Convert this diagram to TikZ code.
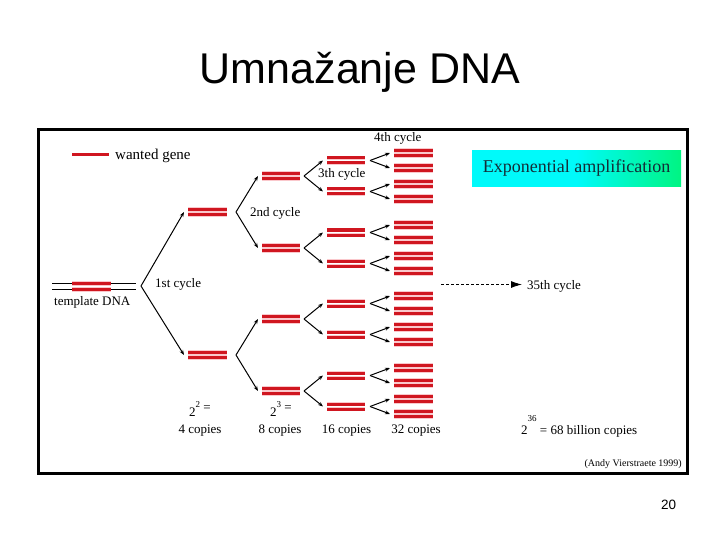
\documentclass[tikz,border=0pt]{standalone}
\usepackage{fontspec}
\setmainfont{Liberation Serif}
\newfontfamily\titlefont{Liberation Sans}
\usetikzlibrary{arrows.meta}
\definecolor{genered}{RGB}{208,22,32}
\definecolor{genepink}{RGB}{250,200,204}
\definecolor{boxtext}{RGB}{20,45,55}
\definecolor{boxcyan}{RGB}{0,250,250}
\definecolor{boxgreen}{RGB}{0,245,130}
\tikzset{
  strand/.style={line width=3pt, genered},
  halo/.style={line width=4.8pt, genepink},
  branch/.style={line width=1pt, -{Stealth[length=5pt,width=3.8pt]}},
  lbl/.style={font=\fontsize{13}{15}\selectfont, inner sep=0pt, anchor=base west},
}
\newcommand\genepair[4]{%
  \draw[halo] (#1,#3-#4/2) -- (#2,#3-#4/2);
  \draw[halo] (#1,#3+#4/2) -- (#2,#3+#4/2);
  \draw[strand] (#1,#3-#4/2) -- (#2,#3-#4/2);
  \draw[strand] (#1,#3+#4/2) -- (#2,#3+#4/2);
}
\begin{document}
\begin{tikzpicture}[x=1pt,y=-1pt]
\useasboundingbox (0,0) rectangle (720,540);
% title and page number
\node[font=\titlefont\fontsize{43}{50}\selectfont, anchor=base, inner sep=0pt] (title) at (360,84) {Umnažanje DNA};
\node[font=\titlefont\fontsize{13.5}{16}\selectfont, inner sep=0pt] (pagenum) at (668.5,505) {20};
% frame
\draw[line width=3pt] (38.5,129.5) rectangle (687.5,473.5);
% legend
\coordinate (lg1) at (72,155);
\coordinate (lg2) at (109,155);
\draw[strand] (lg1) -- (lg2);
\node[lbl, font=\fontsize{15}{17}\selectfont] (wanted) at (115,159.5) {wanted gene};
% template DNA
\coordinate (t1) at (52,283.5);
\coordinate (t2) at (136,283.5);
\coordinate (t3) at (52,289.5);
\coordinate (t4) at (136,289.5);
\draw[line width=0.8pt] (t1) -- (t2);
\draw[line width=0.8pt] (t3) -- (t4);
\genepair{72}{111}{286.5}{6}
\node[lbl] (template) at (54,305) {template DNA};
% tree
\coordinate (v0) at (141,286);
\foreach \a [count=\i] in {212,355}{
  \coordinate (p\i) at (184,\a);
  \draw[branch] (v0) -- (p\i);
  \genepair{188}{227}{\a}{5.5}
  \coordinate (v\i) at (236,\a);
  \foreach \s [count=\j] in {-36,36}{
    \pgfmathsetmacro\b{\a+\s}
    \coordinate (q\i\j) at (258,\b);
    \draw[branch] (v\i) -- (q\i\j);
    \genepair{262}{300}{\b}{5.5}
    \coordinate (w\i\j) at (304,\b);
    \foreach \t [count=\k] in {-15.5,15.5}{
      \pgfmathsetmacro\c{\b+\t}
      \coordinate (r\i\j\k) at (323,\c);
      \draw[branch] (w\i\j) -- (r\i\j\k);
      \genepair{327}{365}{\c}{5}
      \coordinate (x\i\j\k) at (370,\c);
      \foreach \u [count=\m] in {-7.5,7.5}{
        \pgfmathsetmacro\d{\c+\u}
        \coordinate (s\i\j\k\m) at (390,\d);
        \draw[branch] (x\i\j\k) -- (s\i\j\k\m);
        \genepair{394}{433}{\d}{5}
      }
    }
  }
}
% cycle labels
\node[lbl] (c1) at (155,287) {1st cycle};
\node[lbl] (c2) at (250,216) {2nd cycle};
\node[lbl] (c3) at (318,178) {3th cycle};
\node[lbl] (c4) at (374,142) {4th cycle};
\node[lbl] (c35) at (527,289) {35th cycle};
\coordinate (ds) at (441,284.5);
\draw[line width=0.8pt, dash pattern=on 3pt off 2pt, -{Latex[length=11pt,width=7pt]}, shorten >=5pt] (ds) -- (c35.west |- ds);
% exponential box
\node[left color=boxcyan, right color=boxgreen, middle color=boxcyan, minimum width=209pt, minimum height=36pt, inner sep=0pt,
      font=\fontsize{18}{20}\selectfont, text=boxtext] (expo) at (576.5,168.5) {Exponential amplification};
% copies
\node[lbl] (e2) at (189,416) {2\raisebox{9pt}{\fontsize{9}{9}\selectfont 2}\raisebox{5pt}{ =}};
\node[lbl, anchor=base] (k4) at (200,433.5) {4 copies};
\node[lbl] (e3) at (270,416) {2\raisebox{9pt}{\fontsize{9}{9}\selectfont 3}\raisebox{5pt}{ =}};
\node[lbl, anchor=base] (k8) at (280,433.5) {8 copies};
\node[lbl, anchor=base] (k16) at (346.5,433.5) {16 copies};
\node[lbl, anchor=base] (k32) at (416,433.5) {32 copies};
\node[lbl] (e36) at (521,434) {2\raisebox{13pt}{\fontsize{9}{9}\selectfont 36} = 68 billion copies};
\node[lbl, anchor=base east, font=\fontsize{10}{12}\selectfont] (andy) at (682,466.5) {(Andy Vierstraete 1999)};
\end{tikzpicture}
\end{document}
